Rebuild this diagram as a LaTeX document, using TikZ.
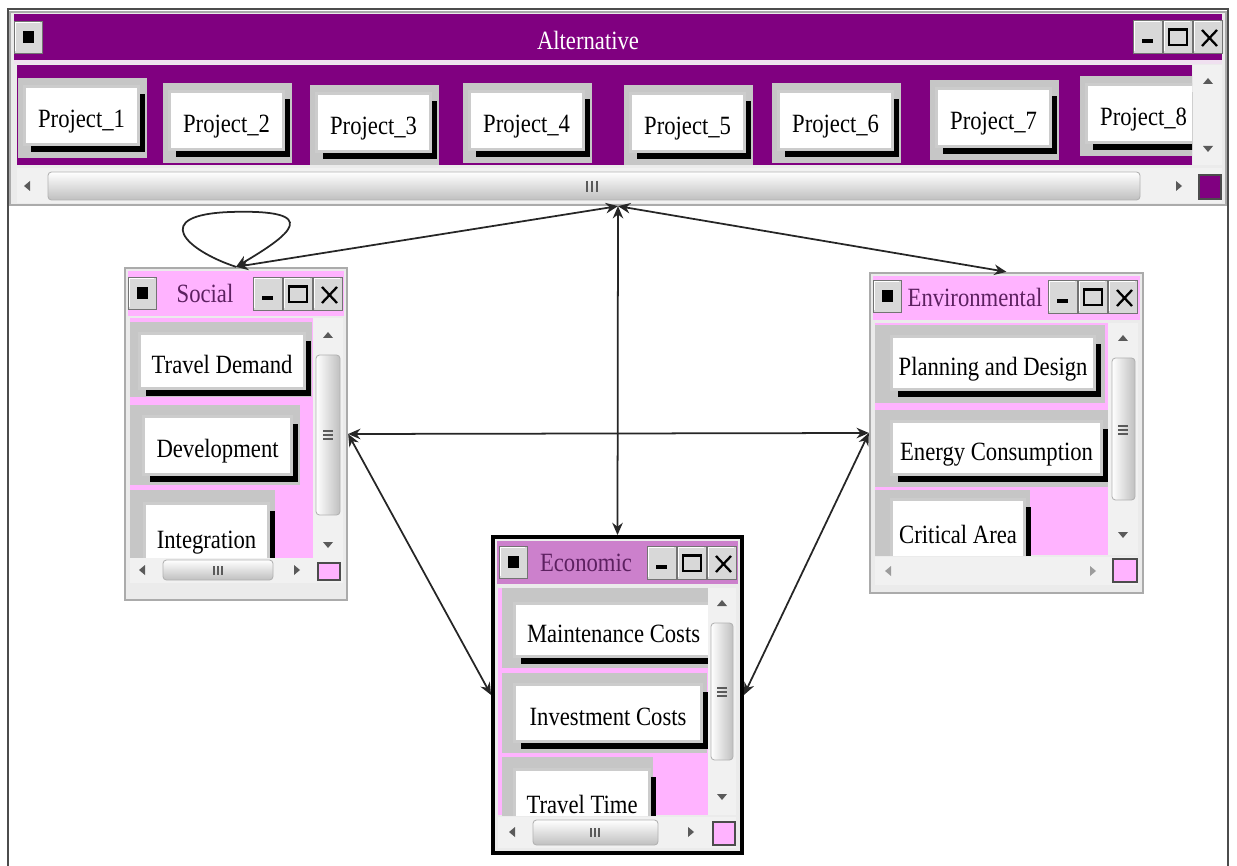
\documentclass[tikz,border=0pt]{standalone}
\usepackage{fontspec}
\setmainfont{Liberation Serif}[FakeStretch=0.86]
\usetikzlibrary{arrows.meta, shadows}

\begin{document}
\begin{tikzpicture}[
    x=0.2mm, y=-0.2mm,
    every node/.style={font=\fontsize{15pt}{18pt}\selectfont},
]

% ---------------------------------------------------------------- colours
\definecolor{purp}{HTML}{800080}      % the alternative window
\definecolor{pinkbg}{HTML}{FFB3FF}    % the criterion windows
\definecolor{econbar}{HTML}{CC80CC}   % title bar of the active window
\definecolor{titletext}{HTML}{5C2060}
\definecolor{panel}{HTML}{EBEBEB}
\definecolor{cellgray}{HTML}{C6C6C6}
\definecolor{framegray}{HTML}{ABABAB}
\definecolor{btngray}{HTML}{D8D8D8}
\definecolor{scrollbg}{HTML}{F1F1F1}
\definecolor{glyph}{HTML}{5A5A5A}
\definecolor{linkcolor}{HTML}{262626}

% ---------------------------------------------------------------- styles
\tikzset{
    winbox/.style={
        rectangle, inner sep=0pt, draw=framegray, line width=1.3pt,
        fill=panel,
    },
    btn/.style={
        rectangle, inner sep=0pt, anchor=north west,
        text height=13.6pt, text depth=0pt,
        draw=black!20, line width=1.8pt, fill=white, text=black,
        drop shadow={shadow xshift=3.4pt, shadow yshift=-4.4pt,
            fill=black, opacity=1},
    },
    thumbh/.style={
        top color=white, bottom color=black!25, draw=black!30,
        line width=0.5pt, rounded corners=2pt,
    },
    thumbv/.style={
        left color=white, right color=black!25, draw=black!30,
        line width=0.5pt, rounded corners=2pt,
    },
    grip/.style={glyph, line width=0.6pt},
    cornerbox/.style={draw=black!70, line width=0.8pt},
    link/.style={
        {Stealth[length=7pt, width=6pt]}-{Stealth[length=7pt, width=6pt]},
        line width=1pt, linkcolor,
    },
}

% ================================================================
% GEOMETRY  (one unit = one pixel of the screen shot, y grows down)
%   Alternative     x in [10, 1226],   y in [12, 205]
%   Social          x in [125, 347],   y in [268, 600]
%   Environmental   x in [870, 1143],  y in [273, 593]
%   Economic        x in [493, 742],   y in [537, 853]
% ================================================================

\useasboundingbox (0,0) rectangle (1237,866);

% screen edge
\draw[black!70, line width=1.4pt] (8,866) -- (8,9) -- (1228,9) -- (1228,866);

% ---------------------------------------------------------------- alternative
\node[winbox, minimum width=243.2mm, minimum height=38.6mm] (alt)
    at (618,108.5) {};
\fill[purp] (14,14) rectangle (1222,60);
\fill[purp!12] (14,60) rectangle (1222,64);
\fill[purp] (17,65) rectangle (1192,165);
\node[text=white] (alttitle) at (588,40) {Alternative};

\begin{scope}
    \clip (17,65) rectangle (1192,165);
    \foreach \k/\x/\y in {1/18/78, 2/163/83, 3/310/85, 4/463/83,
                          5/624/85, 6/772/83, 7/930/80, 8/1080/76} {
        \fill[cellgray] (\x,\y) rectangle ++(129,80);
        \node[btn, minimum width=22.8mm, minimum height=11.6mm]
            (p\k) at (\x+5,\y+7) {Project\_\k};
    }
\end{scope}

\fill[scrollbg] (1193,65) rectangle (1222,165);
\fill[glyph] (1203,84) -- (1213,84) -- (1208,78) -- cycle;
\fill[glyph] (1203,146) -- (1213,146) -- (1208,152) -- cycle;
\fill[scrollbg] (17,168) rectangle (1222,203);
\shadedraw[thumbh] (48,172) rectangle (1140,200);
\foreach \d in {-5,0,5} \draw[grip] (592+\d,181) -- ++(0,11);
\fill[glyph] (30,181) -- (30,191) -- (24,186) -- cycle;
\fill[glyph] (1176,181) -- (1176,191) -- (1182,186) -- cycle;
\filldraw[purp, cornerbox] (1199,175) rectangle (1221,199);

% ---------------------------------------------------------------- social
\node[winbox, minimum width=44.4mm, minimum height=66.4mm] (social)
    at (236,434) {};
\fill[pinkbg] (128,271) rectangle (344,316);
\node[text=titletext] (socialtitle) at (205,293) {Social};
\fill[pinkbg] (130,318) rectangle (313,558);

\begin{scope}
    \clip (130,318) rectangle (313,558);
    \fill[cellgray] (130,322) rectangle (312,397);
    \fill[cellgray] (130,405) rectangle (300,485);
    \fill[cellgray] (130,490) rectangle (275,560);
    \node[btn, minimum width=33mm, minimum height=11mm]
        (travel) at (138,332) {Travel Demand};
    \node[btn, minimum width=29.6mm, minimum height=11.6mm]
        (devel) at (142,415) {Development};
    \node[btn, minimum width=24.8mm, minimum height=13.2mm]
        (integ) at (143,502) {Integration};
\end{scope}

\fill[scrollbg] (313,318) rectangle (343,558);
\shadedraw[thumbv] (316,355) rectangle (340,515);
\foreach \d in {-4,0,4} \draw[grip] (323,435+\d) -- ++(10,0);
\fill[glyph] (323,338) -- (333,338) -- (328,332) -- cycle;
\fill[glyph] (323,542) -- (333,542) -- (328,548) -- cycle;
\fill[scrollbg] (130,558) rectangle (343,583);
\shadedraw[thumbh] (163,560) rectangle (273,580);
\foreach \d in {-4,0,4} \draw[grip] (218+\d,566) -- ++(0,9);
\fill[glyph] (145,565) -- (145,575) -- (139,570) -- cycle;
\fill[glyph] (294,565) -- (294,575) -- (300,570) -- cycle;
\filldraw[pinkbg, cornerbox] (318,563) rectangle (340,580);

% ---------------------------------------------------------------- environmental
\node[winbox, minimum width=54.6mm, minimum height=64mm] (env)
    at (1006.5,433) {};
\fill[pinkbg] (873,276) rectangle (1140,320);
\node[text=titletext] (envtitle) at (975,297) {Environmental};
\fill[pinkbg] (875,323) rectangle (1108,555);

\begin{scope}
    \clip (875,323) rectangle (1108,555);
    \fill[cellgray] (875,325) rectangle (1105,403);
    \fill[cellgray] (875,410) rectangle (1108,487);
    \fill[cellgray] (875,490) rectangle (1030,560);
    \node[btn, minimum width=40.6mm, minimum height=10.6mm]
        (plan) at (890,335) {Planning and Design};
    \node[btn, minimum width=42mm, minimum height=10.6mm]
        (energy) at (890,420) {Energy Consumption};
    \node[btn, minimum width=26.6mm, minimum height=12.8mm]
        (crit) at (890,498) {Critical Area};
\end{scope}

\fill[scrollbg] (1108,323) rectangle (1138,555);
\shadedraw[thumbv] (1112,358) rectangle (1135,500);
\foreach \d in {-4,0,4} \draw[grip] (1118,430+\d) -- ++(10,0);
\fill[glyph] (1118,341) -- (1128,341) -- (1123,335) -- cycle;
\fill[glyph] (1118,532) -- (1128,532) -- (1123,538) -- cycle;
\fill[scrollbg] (875,557) rectangle (1138,585);
\fill[glyph!60] (891,566) -- (891,576) -- (885,571) -- cycle;
\fill[glyph!60] (1090,566) -- (1090,576) -- (1096,571) -- cycle;
\filldraw[pinkbg, cornerbox] (1113,559) rectangle (1137,582);

% ---------------------------------------------------------------- economic
\node[winbox, draw=black, line width=2.2pt, minimum width=49.8mm,
    minimum height=63.2mm] (econ) at (617.5,695) {};
\fill[econbar] (497,541) rectangle (738,584);
\node[text=titletext] (econtitle) at (586,563) {Economic};
\fill[pinkbg] (498,588) rectangle (708,815);

\begin{scope}
    \clip (498,588) rectangle (708,815);
    \fill[cellgray] (502,588) rectangle (708,668);
    \fill[cellgray] (502,673) rectangle (707,753);
    \fill[cellgray] (502,757) rectangle (653,820);
    \node[btn, minimum width=39.6mm, minimum height=10.6mm]
        (maint) at (513,602) {Maintenance Costs};
    \node[btn, minimum width=37.4mm, minimum height=11.4mm]
        (invest) at (513,683) {Investment Costs};
    \node[btn, minimum width=27mm, minimum height=12.8mm]
        (ttime) at (513,768) {Travel Time};
\end{scope}

\fill[scrollbg] (708,588) rectangle (736,815);
\shadedraw[thumbv] (711,623) rectangle (733,760);
\foreach \d in {-4,0,4} \draw[grip] (717,692+\d) -- ++(10,0);
\fill[glyph] (717,606) -- (727,606) -- (722,600) -- cycle;
\fill[glyph] (717,794) -- (727,794) -- (722,800) -- cycle;
\fill[scrollbg] (498,817) rectangle (736,848);
\shadedraw[thumbh] (533,820) rectangle (658,845);
\foreach \d in {-4,0,4} \draw[grip] (595+\d,828) -- ++(0,9);
\fill[glyph] (515,827) -- (515,837) -- (509,832) -- cycle;
\fill[glyph] (688,827) -- (688,837) -- (694,832) -- cycle;
\filldraw[pinkbg, cornerbox] (713,822) rectangle (735,845);

% ---------------------------------------------------------------- title bar buttons
\foreach \x/\y in {14/21, 128/277, 873/280, 499/546} {
    \filldraw[btngray, draw=black!55] (\x,\y) rectangle ++(28,32);
    \draw[white, line width=0.8pt] (\x+1.5,\y+30) |- (\x+26,\y+1.5);
    \fill[black] (\x+9,\y+10) rectangle ++(11,12);
}
\foreach \x/\y in {1133/20, 253/277, 1048/280, 647/546} {
    \foreach \i in {0,1,2} {
        \filldraw[btngray, draw=black!55] (\x+\i*30,\y) rectangle ++(29,33);
        \draw[white, line width=0.8pt]
            (\x+\i*30+1.5,\y+31) |- (\x+\i*30+27,\y+1.5);
    }
    \fill[black] (\x+9,\y+19) rectangle ++(11,4);
    \draw[black, line width=0.9pt] (\x+36,\y+9) rectangle ++(18,16);
    \draw[black, line width=1.6pt] (\x+36,\y+9.5) -- ++(18,0);
    \draw[black, line width=1.3pt] (\x+69,\y+10) -- ++(15,16)
        (\x+69,\y+26) -- ++(15,-16);
}

% ---------------------------------------------------------------- links
\draw[link] (alt.south) -- (social.north);
\draw[link] (alt.south) -- (env.north);
\draw[link] (alt.south) -- (econ.north);
\draw[link] (social.east) -- (env.west);
\draw[link] (social.east) -- (econ.west);
\draw[link] (env.west) -- (econ.east);
\draw[-{Stealth[length=7pt, width=6pt]}, line width=1pt, linkcolor]
    (social.north) .. controls (185,250) and (150,215) .. (230,212)
    .. controls (325,209) and (290,235) .. (social.north);

\end{tikzpicture}
\end{document}
